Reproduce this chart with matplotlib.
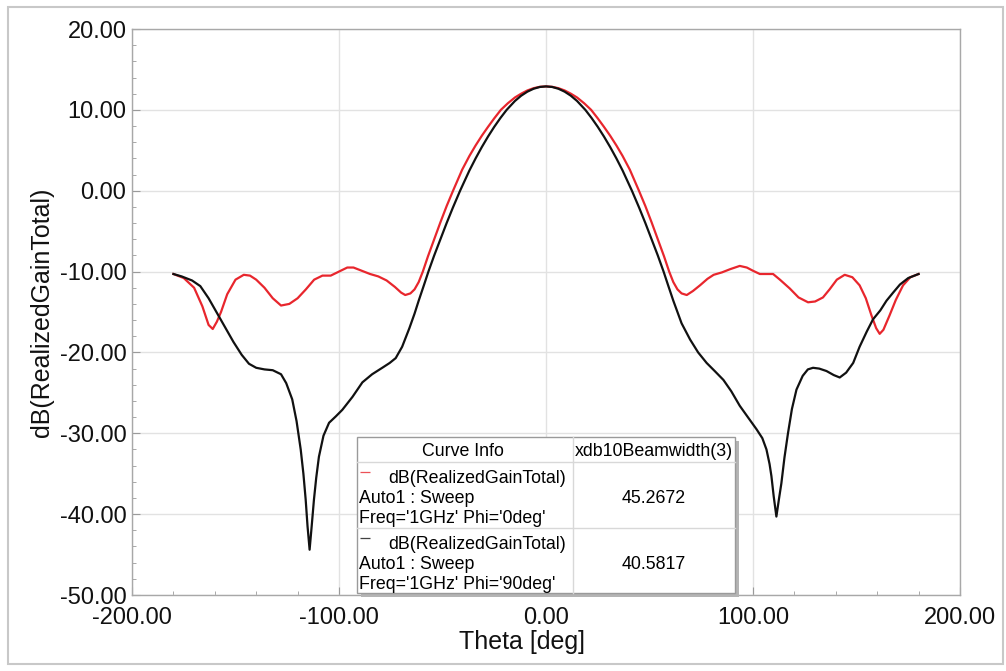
import matplotlib
matplotlib.use("Agg")
import matplotlib.pyplot as plt
from matplotlib.patches import Rectangle
from matplotlib.ticker import MultipleLocator, FormatStrFormatter

plt.rcParams['font.family'] = ['Liberation Sans', 'DejaVu Sans']

# Phi = 0deg (red)
theta_phi0 = [-180, -175, -170, -166, -163, -161, -159, -157, -154, -150, -146, -143,
              -140, -136, -132, -128, -124, -120, -116, -112, -108, -104, -100, -96,
              -93, -89, -85, -81, -77, -73, -70, -68, -65.5, -63.5, -61.5, -59.5, -57,
              -54, -51, -48, -44.9, -40.5, -37, -34, -31, -28, -25, -21.8, -18.5, -15,
              -12, -9, -6, -3, 0, 3, 6, 9, 12, 15, 18.5, 21.8, 25, 28, 31, 34, 37,
              40.5, 44.9, 48, 51, 54, 57, 59.5, 61.5, 63.5, 65.5, 68, 71, 74.4, 78,
              81, 85, 89, 93.6, 97, 100, 103.3, 106.5, 109.7, 113, 117.8, 122, 126.6,
              130, 133.8, 137, 140.5, 144.3, 148, 151.5, 154.5, 157.2, 159.5, 161.2,
              163, 166, 169, 172.5, 176, 180]
gain_phi0 = [-10.3, -10.8, -12.0, -14.3, -16.6, -17.1, -16.2, -15.0, -12.8, -11.0, -10.4,
             -10.5, -11.0, -12.0, -13.3, -14.2, -14.0, -13.3, -12.2, -11.0, -10.5, -10.5,
             -10.0, -9.5, -9.5, -9.9, -10.3, -10.6, -11.1, -11.9, -12.6, -12.9, -12.7,
             -12.2, -11.3, -10.0, -8.1, -6.0, -3.9, -1.9, 0.0, 2.6, 4.3, 5.6, 6.8, 7.9,
             8.95, 10.0, 10.8, 11.53, 12.0, 12.4, 12.68, 12.85, 12.9, 12.85, 12.68,
             12.4, 12.0, 11.53, 10.8, 10.0, 8.95, 7.9, 6.8, 5.6, 4.3, 2.6, 0.0, -1.9,
             -3.9, -6.0, -8.1, -10.0, -11.3, -12.2, -12.7, -12.9, -12.4, -11.7, -10.9,
             -10.4, -10.1, -9.7, -9.3, -9.5, -9.9, -10.3, -10.3, -10.3, -11.0, -12.1,
             -13.2, -13.8, -13.7, -13.2, -12.2, -11.0, -10.4, -10.7, -11.7, -13.3,
             -15.4, -17.0, -17.7, -17.2, -15.4, -13.5, -11.7, -10.7, -10.3]

# Phi = 90deg (black)
theta_phi90 = [-180, -176, -171, -167, -163, -159, -155, -151, -147, -143.5, -140, -136,
               -132, -128, -125.5, -122.6, -120.5, -118.5, -117.2, -116.1, -115.2,
               -114.2, -113.2, -112.1, -111, -109.7, -107.5, -104.8, -101.5, -98.4,
               -93.5, -88.7, -84, -79.1, -75.5, -72.6, -69.5, -66, -63.5, -61.5, -59,
               -56.8, -54, -51, -48, -45, -41.5, -37, -34, -31, -28, -25, -22, -19,
               -15, -12, -9, -6, -3, 0, 3, 6, 9, 12, 15, 19, 22, 25, 28, 31, 34, 37,
               41.5, 45, 48, 51, 54, 56.8, 59, 61.5, 65.5, 69.6, 73.5, 77.6, 81.5,
               85.7, 89.5, 93.6, 97.5, 101.7, 104.5, 106.5, 108, 108.9, 110, 111.3,
               112.5, 113.7, 115.2, 116.9, 118.8, 121, 124, 126.5, 129, 132, 135.5,
               139, 141.9, 145, 148.4, 151.5, 155, 158, 161.5, 164.5, 167.7, 171, 175,
               180]
gain_phi90 = [-10.3, -10.6, -11.1, -11.8, -13.3, -15.1, -16.9, -18.7, -20.3, -21.4, -21.9,
              -22.1, -22.2, -22.7, -23.8, -25.8, -28.5, -32.0, -35.0, -38.2, -41.5,
              -44.4, -41.5, -38.2, -35.5, -32.9, -30.3, -28.7, -27.9, -27.1, -25.5,
              -23.7, -22.7, -21.9, -21.3, -20.7, -19.3, -17.0, -15.2, -13.6, -11.7,
              -10.0, -8.0, -6.0, -4.0, -2.1, 0.0, 2.5, 4.0, 5.4, 6.7, 7.9, 9.0, 10.0,
              11.1, 11.75, 12.25, 12.61, 12.83, 12.9, 12.83, 12.61, 12.25, 11.75, 11.1,
              10.0, 9.0, 7.9, 6.7, 5.4, 4.0, 2.5, 0.0, -2.1, -4.0, -6.0, -8.0, -10.0,
              -11.7, -13.6, -16.4, -18.4, -20.0, -21.3, -22.3, -23.4, -24.8, -26.6,
              -28.0, -29.5, -30.6, -32.0, -33.8, -35.3, -37.8, -40.3, -38.2, -36.2,
              -33.0, -30.0, -27.0, -24.6, -22.9, -22.1, -21.9, -22.0, -22.3, -22.8,
              -23.1, -22.5, -21.3, -19.3, -17.4, -15.9, -14.8, -13.6, -12.6, -11.6,
              -10.8, -10.3]

curve_names = ["dB(RealizedGainTotal)", "dB(RealizedGainTotal)"]
curve_sweeps = ["Auto1 : Sweep", "Auto1 : Sweep"]
curve_params = ["Freq='1GHz' Phi='0deg'", "Freq='1GHz' Phi='90deg'"]
beamwidths = ["45.2672", "40.5817"]
colors = ["#e8262d", "#111111"]

fig = plt.figure(figsize=(10.06, 6.71), dpi=100)
ax = fig.add_axes([132 / 1006, 1 - 595 / 671, 828 / 1006, 566 / 671])

ax.plot(theta_phi0, gain_phi0, color=colors[0], lw=1.6, zorder=3,
        solid_joinstyle='round')
ax.plot(theta_phi90, gain_phi90, color=colors[1], lw=1.6, zorder=4,
        solid_joinstyle='round')

ax.set_xlim(-200, 200)
ax.set_ylim(-50, 20)
ax.xaxis.set_major_locator(MultipleLocator(100))
ax.xaxis.set_minor_locator(MultipleLocator(20))
ax.yaxis.set_major_locator(MultipleLocator(10))
ax.yaxis.set_minor_locator(MultipleLocator(2))
ax.xaxis.set_major_formatter(FormatStrFormatter('%.2f'))
ax.yaxis.set_major_formatter(FormatStrFormatter('%.2f'))
ax.grid(True, which='major', color='#e2e2e2', lw=1.0)
ax.set_axisbelow(True)
ax.tick_params(which='both', direction='in', color='#9a9a9a', labelsize=17,
               labelcolor='#111111', top=False, right=False)
ax.tick_params(which='major', length=6)
ax.tick_params(which='minor', length=3)
ax.tick_params(axis='x', pad=9)
ax.tick_params(axis='y', pad=4)
for s in ax.spines.values():
    s.set_color('#a8a8a8')
    s.set_linewidth(1.0)

ax.set_xlabel("Theta [deg]", fontsize=18, color='#111111')
ax.xaxis.set_label_coords(0.471, -0.062)
ax.set_ylabel("dB(RealizedGainTotal)", fontsize=18, color='#111111', labelpad=4)

# Curve info table (HFSS style legend)
W, H = 378, 156
leg = fig.add_axes([357 / 1006, 1 - 593 / 671, W / 1006, H / 671])
leg.set_xlim(0, W)
leg.set_ylim(H, 0)
leg.axis('off')
leg.add_patch(Rectangle((4, 4), W, H, facecolor='#b4b4b4', edgecolor='none',
                        zorder=0, clip_on=False))
leg.add_patch(Rectangle((0, 0), W, H, facecolor='white', edgecolor='#9a9a9a',
                        lw=1.0, zorder=1, clip_on=False))
leg.plot([216, 216], [0, H], color='#d8d8d8', lw=1.0, zorder=2, clip_on=False)
for yy in [25, 91]:
    leg.plot([0, W], [yy, yy], color='#d8d8d8', lw=1.0, zorder=2, clip_on=False)

fs = 12.8
leg.text(106, 14, "Curve Info", ha='center', va='center', fontsize=fs, zorder=3)
leg.text(297, 14, "xdb10Beamwidth(3)", ha='center', va='center', fontsize=fs, zorder=3)
row_top = [25, 91]
for i in range(2):
    y0 = row_top[i]
    leg.plot([3, 13], [y0 + 10, y0 + 10], color=colors[i], lw=0.9, alpha=0.8,
             zorder=3, solid_capstyle='butt')
    leg.text(31, y0 + 16.5, curve_names[i], ha='left', va='center', fontsize=fs, zorder=3)
    leg.text(2, y0 + 36.5, curve_sweeps[i], ha='left', va='center', fontsize=fs, zorder=3)
    leg.text(2, y0 + 56.5, curve_params[i], ha='left', va='center', fontsize=fs, zorder=3)
    leg.text(297, y0 + 36.5, beamwidths[i], ha='center', va='center', fontsize=fs, zorder=3)

# outer frame
fig.patches.append(Rectangle((8 / 1006, 1 - 664 / 671), 995 / 1006, 657 / 671,
                             transform=fig.transFigure, fill=False,
                             edgecolor='#c8c8c8', lw=1.5))

fig.savefig("out.png", dpi=100)
